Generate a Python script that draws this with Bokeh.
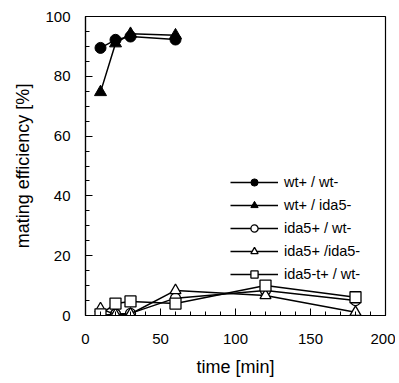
from bokeh.plotting import figure
from bokeh.models import Legend, LegendItem, FixedTicker, Range1d
from bokeh.embed import file_html
from bokeh.resources import INLINE

# data
t_wt = [10, 20, 30, 60]
wt_wt = [89.5, 92.2, 93.3, 92.3]
wt_ida5 = [74.7, 91.0, 94.2, 93.7]

t_low = [10, 20, 30, 60, 120, 180]
ida5_wt = [0.0, 0.5, 0.7, 5.8, 8.4, 5.0]
ida5_ida5 = [2.3, 0.3, 0.5, 8.4, 6.7, 1.1]
ida5t_wt = [0.4, 4.0, 4.7, 4.0, 10.0, 6.1]

labels = ["wt+ / wt-", "wt+ / ida5-", "ida5+ / wt-", "ida5+ /ida5-", "ida5-t+ / wt-"]
x_ticks = [0, 50, 100, 150, 200]
y_ticks = [0, 20, 40, 60, 80, 100]

FONT = "Liberation Sans"

p = figure(width=395, height=383, output_backend="svg", toolbar_location=None,
           x_range=Range1d(0, 200), y_range=Range1d(0, 100),
           min_border_left=85, min_border_right=10, min_border_top=16, min_border_bottom=68)
p.xgrid.visible = False
p.ygrid.visible = False
p.outline_line_color = "black"
p.outline_line_width = 1.2
p.background_fill_color = "white"
p.border_fill_color = "white"

for ax in (p.xaxis[0], p.yaxis[0]):
    ax.axis_line_color = "black"
    ax.axis_line_width = 1.2
    ax.major_tick_in = 7
    ax.major_tick_out = 0
    ax.minor_tick_in = 4
    ax.minor_tick_out = 0
    ax.major_tick_line_color = "black"
    ax.minor_tick_line_color = "black"
    ax.major_label_text_font = FONT
    ax.major_label_text_font_size = "15px"
    ax.major_label_text_color = "black"
    ax.axis_label_text_font = FONT
    ax.axis_label_text_font_size = "18px"
    ax.axis_label_text_font_style = "normal"
    ax.axis_label_text_color = "black"

p.xaxis.ticker = FixedTicker(ticks=x_ticks, minor_ticks=list(range(0, 201, 10)))
p.yaxis.ticker = FixedTicker(ticks=y_ticks, minor_ticks=list(range(0, 101, 5)))
p.xaxis.major_label_standoff = 18
p.yaxis.major_label_standoff = 15
p.xaxis.axis_label = "time [min]"
p.yaxis.axis_label = "mating efficiency [%]"
p.xaxis.axis_label_standoff = 10
p.yaxis.axis_label_standoff = 9

LW = 1.5
r1l = p.line(t_wt, wt_wt, line_color="black", line_width=LW)
r1m = p.scatter(t_wt, wt_wt, marker="circle", size=11, fill_color="black", line_color="black")
r2l = p.line(t_wt, wt_ida5, line_color="black", line_width=LW)
r2m = p.scatter(t_wt, wt_ida5, marker="triangle", size=12, fill_color="black", line_color="black")

r3l = p.line(t_low, ida5_wt, line_color="black", line_width=LW)
r3m = p.scatter(t_low, ida5_wt, marker="circle", size=10, fill_color="white", line_color="black", line_width=1.3)
r4l = p.line(t_low, ida5_ida5, line_color="black", line_width=LW)
r4m = p.scatter(t_low, ida5_ida5, marker="triangle", size=11, fill_color="white", line_color="black", line_width=1.3)
r5l = p.line(t_low, ida5t_wt, line_color="black", line_width=LW)
r5m = p.scatter(t_low, ida5t_wt, marker="square", size=11, fill_color="white", line_color="black", line_width=1.3)

items = [
    LegendItem(label=labels[0], renderers=[r1l, r1m]),
    LegendItem(label=labels[1], renderers=[r2l, r2m]),
    LegendItem(label=labels[2], renderers=[r3l, r3m]),
    LegendItem(label=labels[3], renderers=[r4l, r4m]),
    LegendItem(label=labels[4], renderers=[r5l, r5m]),
]
legend = Legend(items=items, location=(145, 32), border_line_color=None,
                background_fill_alpha=0, glyph_width=48, glyph_height=18,
                label_text_font=FONT, label_text_font_size="14.5px",
                label_text_color="black", spacing=5, padding=4, margin=0,
                label_standoff=6)
p.add_layout(legend, "center")

open("out.html", "w").write(file_html(p, INLINE))
